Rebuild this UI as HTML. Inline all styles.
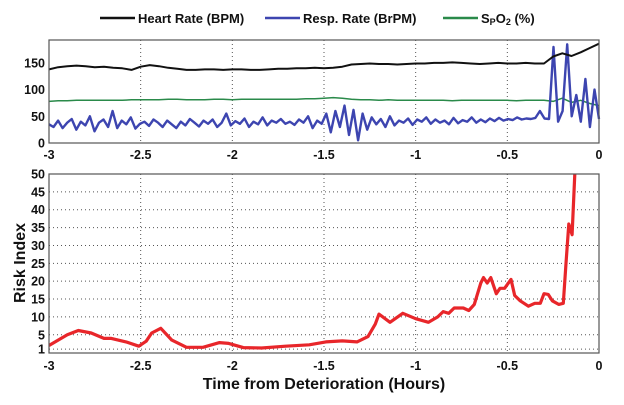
<!DOCTYPE html>
<html><head><meta charset="utf-8"><style>
body{margin:0;background:#fff;}
svg{display:block;font-family:"Liberation Sans",Arial,sans-serif;}
</style></head><body>
<svg id="c" width="624" height="405"></svg>
<script>
const xTicks=[-3,-2.5,-2,-1.5,-1,-0.5,0];
const xTickLabels=["-3","-2.5","-2","-1.5","-1","-0.5","0"];
const topYTicks=[0,50,100,150];
const botYTicks=[1,5,10,15,20,25,30,35,40,45,50];
const hrValues=[138,142,144,145,144,142,143,141,140,137,143,146,144,141,139,137,137,138,138,137,138,138,137,137,138,139,139,140,140,141,140,141,143,147,148,149,148,148,147,148,149,149,150,150,151,150,149,148,149,150,149,149,150,149,149,162,168,163,170,178,186];
const spo2Values=[78,79,79,80,80,80,80,80,80,81,81,81,81,82,82,81,81,81,82,82,81,82,82,82,82,82,82,82,83,83,84,85,84,82,81,81,80,81,80,80,80,80,80,80,79,80,80,80,80,80,80,79,80,80,80,78,84,76,80,74,70];
const rrValues=[35,30,42,28,38,45,25,40,33,50,22,38,44,30,60,28,42,35,48,27,36,40,32,44,38,30,42,35,28,40,33,45,38,31,42,36,44,30,38,55,33,41,36,46,30,40,35,48,33,42,38,45,36,40,34,44,38,50,28,42,36,55,20,60,30,70,15,62,5,55,25,48,35,45,30,50,33,42,38,46,34,44,40,48,36,44,38,42,35,47,37,43,40,48,38,44,39,46,41,47,42,45,43,48,44,46,45,47,60,46,45,180,40,60,185,50,90,40,120,30,100,45];
const riskTimes=[-3,-2.9,-2.84,-2.77,-2.7,-2.66,-2.58,-2.51,-2.47,-2.44,-2.39,-2.33,-2.25,-2.16,-2.07,-2.02,-1.94,-1.84,-1.71,-1.58,-1.49,-1.4,-1.32,-1.26,-1.22,-1.2,-1.14,-1.07,-1.0,-0.93,-0.88,-0.85,-0.82,-0.79,-0.74,-0.71,-0.68,-0.645,-0.63,-0.61,-0.59,-0.56,-0.54,-0.515,-0.48,-0.46,-0.43,-0.385,-0.35,-0.32,-0.3,-0.277,-0.255,-0.22,-0.195,-0.18,-0.165,-0.147,-0.132,-0.126];
const riskValues=[2,5,6.2,5.5,4,4,3,1.8,3.2,5.5,6.8,3.5,1.5,1.5,2.8,2.6,1.4,1.3,1.8,2.2,3,3.3,3,4.5,8,10.8,8.5,11,9.5,8.5,10,11.5,11,12.5,12.5,11.8,13.5,19.5,21,19.5,21,16.5,18,18,20.5,16,14.5,13,13.8,13.8,16.5,16.3,14.5,13.5,13.8,25,36,33,50,52];

const NS="http://www.w3.org/2000/svg";
const svg=document.getElementById('c');
function mk(tag,attrs,parent){const e=document.createElementNS(NS,tag);for(const k in attrs)e.setAttribute(k,attrs[k]);(parent||svg).appendChild(e);return e;}
const L=49,R=599;
const xs=t=>L+(t+3)/3*(R-L);
const T0=40,T1=143;const yTop=v=>T1-v*(T1-T0)/193;
const B0=174,B1=353;const yBot=v=>B1-(v+0.1)*(B1-B0)/50.1;
const FS=12.5;
mk('rect',{x:0,y:0,width:624,height:405,fill:'#fff'});

// top panel
const tp=mk('g',{});


xTicks.forEach((t,i)=>{
  if(i>0&&i<xTicks.length-1){const g=mk('line',{x1:xs(t),x2:xs(t),y1:T0,y2:T1,stroke:'#555','stroke-dasharray':'1,3','stroke-width':1},tp);}
  const tx=mk('text',{x:xs(t),y:T1+16,'text-anchor':'middle','font-size':FS,'font-weight':'bold',fill:'#111'},tp);tx.textContent=xTickLabels[i];
  
});
topYTicks.forEach(v=>{const tx=mk('text',{x:L-4,y:yTop(v)+4.5,'text-anchor':'end','font-size':FS,'font-weight':'bold',fill:'#111'},tp);tx.textContent=v;
  });
function series(vals,color,name,w){
  const n=vals.length;const pts=vals.map((v,i)=>xs(-3+3*i/(n-1)).toFixed(1)+','+yTop(v).toFixed(1)).join(' ');
  const p=mk('polyline',{points:pts,fill:'none',stroke:color,'stroke-width':w,'stroke-linejoin':'round'},tp);
  
}
series(spo2Values,'#2a8a4a','spo2-line',1.5);
series(rrValues,'#3d45b0','resp-rate-line',2.4);
series(hrValues,'#111','heart-rate-line',2);
const tb=mk('rect',{x:L,y:T0,width:R-L,height:T1-T0,fill:'none',stroke:'#555','stroke-width':1.2},tp);


// legend
const lg=mk('g',{});


[[100,'#111','Heart Rate (BPM)'],[265,'#3d45b0','Resp. Rate (BrPM)'],[443,'#2a8a4a',null]].forEach(([x,c,label])=>{
  const ln=mk('line',{x1:x,x2:x+35,y1:18,y2:18,stroke:c,'stroke-width':2.5},lg);
  
  const tx=mk('text',{x:x+38,y:23,'font-size':13,'font-weight':'bold',fill:'#111'},lg);
  
  if(label)tx.textContent=label;else tx.innerHTML='S<tspan font-size="9" dy="2">P</tspan><tspan dy="-2">O</tspan><tspan font-size="9" dy="2">2</tspan><tspan dy="-2"> (%)</tspan>';
});

// bottom panel
const bp=mk('g',{});


botYTicks.forEach(v=>{
  if(v<50){const g=mk('line',{x1:L,x2:R,y1:yBot(v),y2:yBot(v),stroke:'#555','stroke-dasharray':'1,3'},bp);}
  const tx=mk('text',{x:L-4,y:yBot(v)+4.5,'text-anchor':'end','font-size':FS,'font-weight':'bold',fill:'#111'},bp);tx.textContent=v;
  
});
xTicks.forEach((t,i)=>{
  if(i>0&&i<xTicks.length-1){const g=mk('line',{x1:xs(t),x2:xs(t),y1:B0,y2:B1,stroke:'#555','stroke-dasharray':'1,3'},bp);}
  const tx=mk('text',{x:xs(t),y:B1+17,'text-anchor':'middle','font-size':FS,'font-weight':'bold',fill:'#111'},bp);tx.textContent=xTickLabels[i];
  
});
const cp=mk('clipPath',{id:'clipb'});mk('rect',{x:L,y:B0,width:R-L,height:B1-B0},cp);
const rpts=riskValues.map((v,i)=>xs(riskTimes[i]).toFixed(1)+','+yBot(v).toFixed(1)).join(' ');
const rl=mk('polyline',{points:rpts,fill:'none',stroke:'#e8262a','stroke-width':3.2,'stroke-linejoin':'round','clip-path':'url(#clipb)'},bp);

const bb=mk('rect',{x:L,y:B0,width:R-L,height:B1-B0,fill:'none',stroke:'#555','stroke-width':1.2},bp);

const yt=mk('text',{x:0,y:0,transform:'translate(25,263) rotate(-90)','text-anchor':'middle','font-size':16,'font-weight':'bold',fill:'#111'});
yt.textContent='Risk Index';

const xt=mk('text',{x:(L+R)/2,y:389,'text-anchor':'middle','font-size':16,'font-weight':'bold',fill:'#111'});
xt.textContent='Time from Deterioration (Hours)';

</script>
</body></html>
